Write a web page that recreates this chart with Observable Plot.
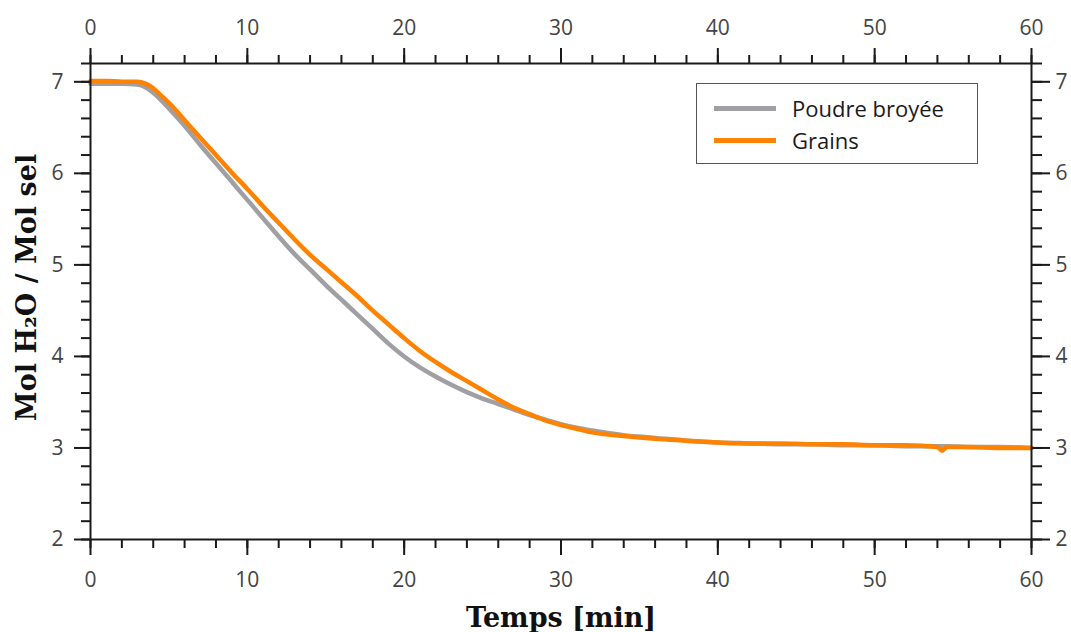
<!DOCTYPE html>
<html><head><meta charset="utf-8">
<script src="https://cdn.jsdelivr.net/npm/d3@7"></script>
<script src="https://cdn.jsdelivr.net/npm/@observablehq/plot@0.6"></script>
<style>
body{margin:0;background:#fff;}
#wrap{position:relative;width:1071px;height:632px;}
#wrap svg{overflow:visible;}
#legend{position:absolute;left:696px;top:83px;width:282px;height:81px;border:1px solid #555;box-sizing:border-box;font-family:"Open Sans";font-size:22px;color:#1a1a1a;background:#fff;}
.row{position:absolute;left:0;display:flex;align-items:center;height:30px}
.sw{display:inline-block;width:62px;height:5px;margin-left:17px;margin-right:16px}
[aria-label$="tick label"]{fill:#444;}
</style>
</head><body>
<div id="wrap"><div id="legend">
<div class="row" style="top:9px"><span class="sw" style="background:#a0a0a4"></span><span>Poudre broyée</span></div>
<div class="row" style="top:41px"><span class="sw" style="background:#ff8200"></span><span>Grains</span></div>
</div></div>
<script>
const temps = [0,1,2,3,3.5,4,4.5,5,6,7,8,9,10,11,12,13,14,15,16,17,18,19,20,21,22,23,24,25,26,27,28,29,30,31,32,34,36,38,40,42,44,46,48,50,52,54,54.3,54.6,56,58,60];
const poudre = [6.98,6.98,6.98,6.97,6.94,6.88,6.80,6.71,6.52,6.31,6.11,5.91,5.71,5.51,5.31,5.12,4.95,4.78,4.62,4.46,4.30,4.14,4.00,3.88,3.78,3.69,3.61,3.54,3.48,3.42,3.36,3.31,3.26,3.22,3.19,3.14,3.11,3.08,3.06,3.05,3.04,3.04,3.03,3.03,3.02,3.02,3.02,3.02,3.01,3.01,3.00];
const grains = [7.01,7.01,7.00,7.00,6.98,6.93,6.85,6.77,6.58,6.39,6.20,6.01,5.83,5.64,5.46,5.28,5.11,4.96,4.81,4.66,4.50,4.35,4.20,4.06,3.94,3.83,3.73,3.63,3.53,3.44,3.37,3.30,3.25,3.21,3.17,3.13,3.10,3.08,3.06,3.05,3.05,3.04,3.04,3.03,3.03,3.01,2.97,3.01,3.01,3.00,3.00];
const xMajor = [0,10,20,30,40,50,60];
const xMinor = d3.range(0, 61, 2);
const yMajor = [2,3,4,5,6,7];
const yMinor = d3.range(2, 7.21, 0.2).map(v => +v.toFixed(1));
const xTitle = "Temps [min]";
const yTitle = "Mol H₂O / Mol sel";

const dPoudre = temps.map((t, i) => ({t, v: poudre[i]}));
const dGrains = temps.map((t, i) => ({t, v: grains[i]}));

const fs = 21;
const fmt = d => String(d);
const ax = {label: null, strokeWidth: 2, stroke: "#1a1a1a"};
const chart = Plot.plot({
  width: 1071, height: 632,
  marginLeft: 90, marginRight: 40, marginTop: 63, marginBottom: 93,
  style: {fontFamily: "Open Sans", background: "#fff", overflow: "visible"},
  x: {domain: [0, 60]},
  y: {domain: [2, 7.2]},
  marks: [
    Plot.line(dPoudre, {x: "t", y: "v", stroke: "#a0a0a4", strokeWidth: 4.5, curve: "monotone-x"}),
    Plot.line(dGrains, {x: "t", y: "v", stroke: "#ff8200", strokeWidth: 4.5, curve: "monotone-x"}),
    Plot.frame({stroke: "#1a1a1a", strokeWidth: 2}),
    Plot.axisX({...ax, anchor: "bottom", ticks: xMinor, tickSize: 9, tickFormat: () => ""}),
    Plot.axisX({...ax, anchor: "bottom", ticks: xMajor, tickSize: 16, tickPadding: 17, fontSize: fs, tickFormat: fmt}),
    Plot.axisX({...ax, anchor: "top", ticks: xMinor, tickSize: 9, tickFormat: () => ""}),
    Plot.axisX({...ax, anchor: "top", ticks: xMajor, tickSize: 16, tickPadding: 13, fontSize: fs, tickFormat: fmt}),
    Plot.axisY({...ax, anchor: "left", ticks: yMinor, tickSize: 9, tickFormat: () => ""}),
    Plot.axisY({...ax, anchor: "left", ticks: yMajor, tickSize: 16, tickPadding: 11, fontSize: fs, tickFormat: fmt}),
    Plot.axisY({...ax, anchor: "right", ticks: yMinor, tickSize: 10, tickFormat: () => ""}),
    Plot.axisY({...ax, anchor: "right", ticks: yMajor, tickSize: 18, tickPadding: 6, fontSize: fs, tickFormat: fmt}),
    Plot.text([xTitle], {frameAnchor: "bottom", dy: 79, textAnchor: "middle", lineAnchor: "middle", fontFamily: "DejaVu Serif", fontWeight: "bold", fontSize: 27, fill: "#111"}),
    Plot.text([yTitle], {frameAnchor: "left", dx: -63, dy: -14, rotate: -90, textAnchor: "middle", lineAnchor: "middle", fontFamily: "DejaVu Serif", fontWeight: "bold", fontSize: 27, fill: "#111"})
  ]
});
document.getElementById("wrap").prepend(chart);
</script>
</body></html>
